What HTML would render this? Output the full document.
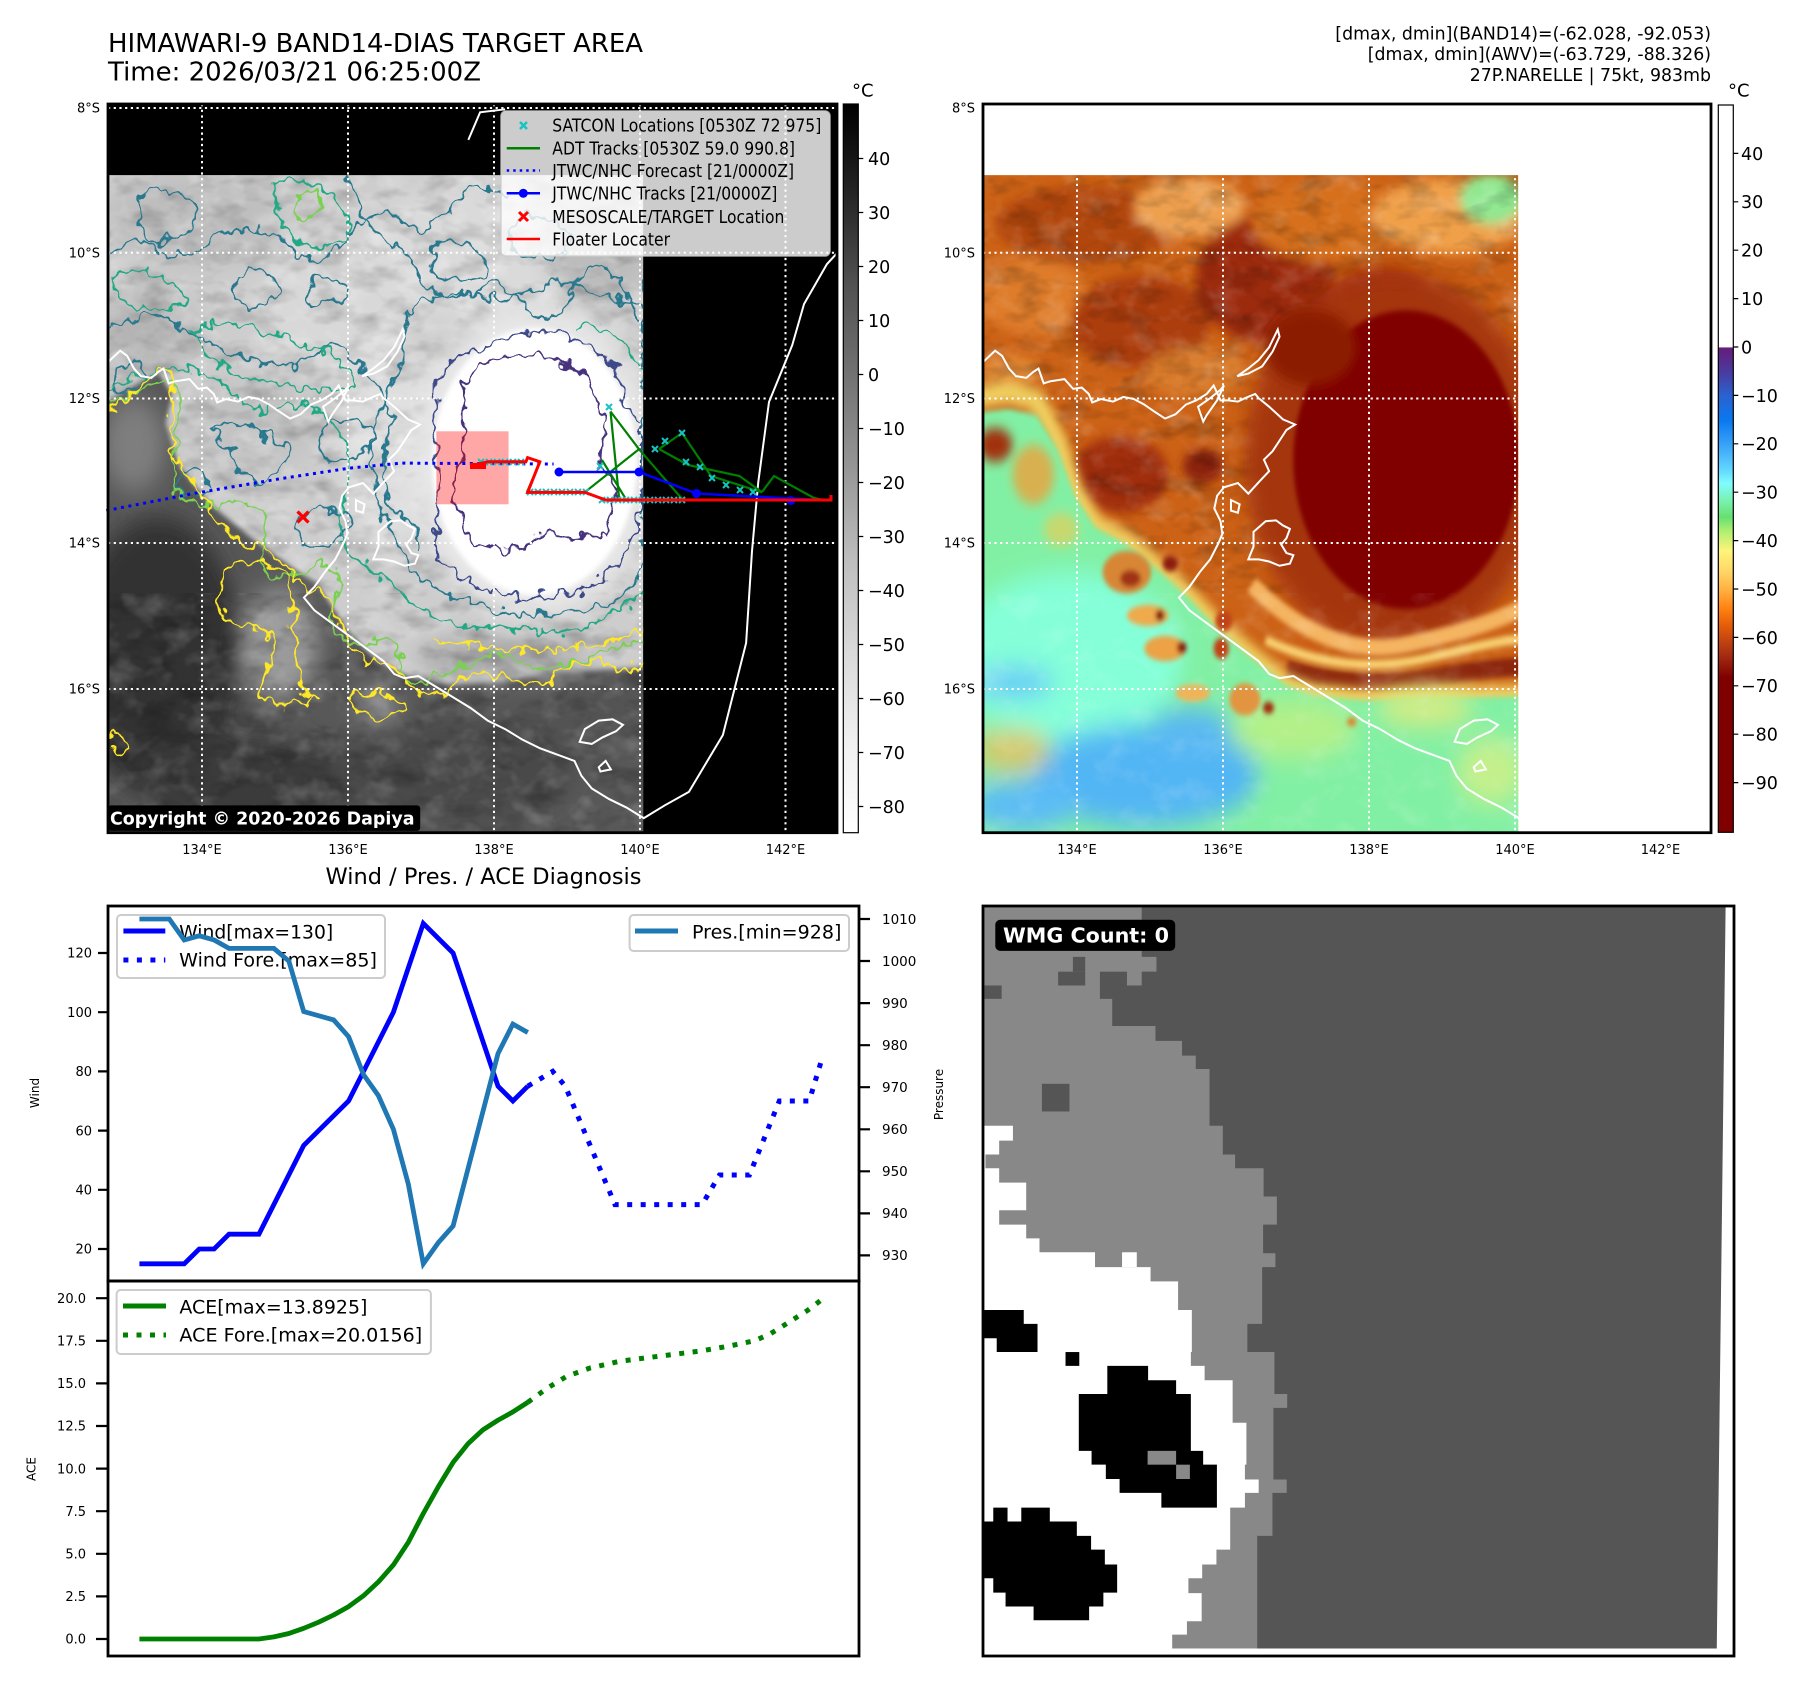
<!DOCTYPE html>
<html><head><meta charset="utf-8">
<style>
html,body{margin:0;padding:0;background:#fff;}
svg{display:block;}
text{font-family:"DejaVu Sans","Liberation Sans",sans-serif;fill:#000;}
.ns{vector-effect:non-scaling-stroke;}
</style></head><body>
<svg width="1801" height="1693" viewBox="0 0 1801 1693" xmlns="http://www.w3.org/2000/svg">
<defs>
<filter id="f6" x="-50%" y="-50%" width="200%" height="200%"><feGaussianBlur stdDeviation="6"/></filter>
<filter id="f14" x="-50%" y="-50%" width="200%" height="200%"><feGaussianBlur stdDeviation="14"/></filter>
<filter id="f30" x="-50%" y="-50%" width="200%" height="200%"><feGaussianBlur stdDeviation="30"/></filter>
<filter id="texD" x="0" y="0" width="100%" height="100%">
<feTurbulence type="fractalNoise" baseFrequency="0.010 0.022" numOctaves="3" seed="7" result="n"/>
<feColorMatrix in="n" type="matrix" values="0 0 0 0 0  0 0 0 0 0  0 0 0 0 0  -2.2 0 0 0 1.2"/>
</filter>
<filter id="texL" x="0" y="0" width="100%" height="100%">
<feTurbulence type="fractalNoise" baseFrequency="0.012 0.018" numOctaves="3" seed="21" result="n"/>
<feColorMatrix in="n" type="matrix" values="0 0 0 0 1  0 0 0 0 1  0 0 0 0 1  2.2 0 0 0 -1.05"/>
</filter>
<filter id="wig" x="-5%" y="-5%" width="110%" height="110%">
<feTurbulence type="fractalNoise" baseFrequency="0.03" numOctaves="2" seed="2" result="t"/>
<feDisplacementMap in="SourceGraphic" in2="t" scale="50" xChannelSelector="R" yChannelSelector="G"/>
</filter>
<clipPath id="cdata"><rect x="5" y="14" width="1543" height="1550"/></clipPath>
<clipPath id="cax"><rect x="5" y="-154" width="2102" height="1718"/></clipPath>
<linearGradient id="gL" x1="0" y1="0" x2="0" y2="1">
<stop offset="0" stop-color="#000"/><stop offset="0.125" stop-color="#252525"/><stop offset="0.25" stop-color="#525252"/>
<stop offset="0.375" stop-color="#737373"/><stop offset="0.5" stop-color="#969696"/><stop offset="0.625" stop-color="#bdbdbd"/>
<stop offset="0.75" stop-color="#d9d9d9"/><stop offset="0.875" stop-color="#f0f0f0"/><stop offset="1" stop-color="#fff"/>
</linearGradient>
<linearGradient id="gR" x1="0" y1="0" x2="0" y2="1">
<stop offset="0" stop-color="#fff"/><stop offset="0.3330" stop-color="#fff"/><stop offset="0.3336" stop-color="#661c7a"/>
<stop offset="0.3667" stop-color="#4a3a9e"/><stop offset="0.4" stop-color="#2a62d0"/><stop offset="0.4333" stop-color="#0a78f0"/>
<stop offset="0.4667" stop-color="#38a2f8"/><stop offset="0.5" stop-color="#60d4ff"/><stop offset="0.52" stop-color="#80fcff"/>
<stop offset="0.5467" stop-color="#78f0a8"/><stop offset="0.5667" stop-color="#66e070"/><stop offset="0.5867" stop-color="#b0f070"/>
<stop offset="0.6133" stop-color="#fff47a"/><stop offset="0.64" stop-color="#ffd868"/><stop offset="0.6667" stop-color="#ffb040"/>
<stop offset="0.6933" stop-color="#ff8010"/><stop offset="0.7133" stop-color="#e86008"/><stop offset="0.7333" stop-color="#c84810"/>
<stop offset="0.76" stop-color="#a02810"/><stop offset="0.7867" stop-color="#800000"/><stop offset="1" stop-color="#800000"/>
</linearGradient>
<g id="coast" fill="none" stroke="#fff" stroke-width="2">
<path class="ns" d="M5,455 L40,428 60,440 80,470 100,488 130,492 150,478 165,470 180,505 200,500 240,495 265,518 290,515 310,530 320,550 345,542 380,548 410,537 440,542 470,555 500,572 530,588 560,578 590,555 620,545 650,530 670,510 690,545 710,545 740,548 760,540 790,530 800,540 830,560 850,575 870,590 905,602 880,615 860,640 840,665 815,685 830,712 800,738 770,765 740,740 700,750 680,770 672,800 690,830 695,860 685,880 660,920 630,950 600,985 570,1010 600,1040 650,1070 700,1100 750,1130 800,1160 830,1190 860,1200 900,1195 950,1220 1000,1245 1050,1270 1100,1300 1150,1320 1200,1345 1250,1365 1300,1380 1350,1395 1370,1430 1400,1460 1450,1485 1500,1505 1550,1530 1610,1500 1680,1468 1778,1334 1845,1117 1862,900 1880,738 1911,549 1978,415 2012,318 2078,224 2116,190"/>
<path class="ns" d="M785,855 L820,830 850,828 870,840 890,848 880,870 865,885 880,905 900,910 890,930 860,935 830,925 800,920 770,920 785,890 Z"/>
<path class="ns" d="M738,488 L770,470 800,450 830,420 855,378 860,395 840,430 810,465 770,482 Z"/>
<path class="ns" d="M625,560 L660,540 690,520 700,510 680,545 650,580 640,595 Z"/>
<path class="ns" d="M1365,1350 L1380,1320 1420,1300 1460,1297 1490,1310 1470,1325 1430,1340 1400,1355 Z"/>
<path class="ns" d="M1420,1410 L1440,1395 1455,1415 1425,1420 Z"/>
<path class="ns" d="M1044,-69 L1078,-134 1150,-141"/>
<path class="ns" d="M720,780 L745,790 740,810 720,805 Z"/>
</g>
</defs>

<text x="108" y="52" font-size="25.7" textLength="535" lengthAdjust="spacingAndGlyphs">HIMAWARI-9 BAND14-DIAS TARGET AREA</text>
<text x="108" y="80.5" font-size="25.7" textLength="373" lengthAdjust="spacingAndGlyphs">Time: 2026/03/21 06:25:00Z</text>
<text x="1711" y="39.3" font-size="18" text-anchor="end" textLength="375.7" lengthAdjust="spacingAndGlyphs">[dmax, dmin](BAND14)=(-62.028, -92.053)</text>
<text x="1711" y="60" font-size="18" text-anchor="end" textLength="343.3" lengthAdjust="spacingAndGlyphs">[dmax, dmin](AWV)=(-63.729, -88.326)</text>
<text x="1711" y="81" font-size="18" text-anchor="end" textLength="241.3" lengthAdjust="spacingAndGlyphs">27P.NARELLE | 75kt, 983mb</text>

<!-- ============ LEFT MAP ============ -->
<rect x="108" y="104" width="729" height="728.7" fill="#000"/>
<g transform="translate(106.27,169.13) scale(0.3468,0.4242)">
<g clip-path="url(#cdata)">
<rect x="0" y="0" width="1560" height="1580" fill="#cdcdcd"/>
<g filter="url(#f30)">
<ellipse cx="250" cy="120" rx="260" ry="110" fill="#bebebe"/>
<ellipse cx="650" cy="330" rx="220" ry="140" fill="#d8d8d8"/>
<ellipse cx="1050" cy="200" rx="330" ry="160" fill="#dadada"/>
<ellipse cx="120" cy="380" rx="140" ry="90" fill="#b4b4b4"/>
<ellipse cx="1420" cy="180" rx="160" ry="140" fill="#bcbcbc"/>
<ellipse cx="420" cy="600" rx="200" ry="110" fill="#c2c2c2"/>
<ellipse cx="820" cy="650" rx="150" ry="250" fill="#dedede"/>
</g>
<rect x="0" y="0" width="1560" height="1000" filter="url(#texD)" opacity="0.22"/>
<rect x="0" y="0" width="1560" height="1000" filter="url(#texL)" opacity="0.35"/>
<path filter="url(#f6)" d="M-20,560 L60,520 150,480 190,530 170,600 210,700 300,790 420,870 520,930 610,980 690,1080 780,1160 880,1200 1000,1215 1150,1205 1300,1185 1570,1175 L1570,1590 -20,1590 Z" fill="#585858"/>
<g filter="url(#f30)">
<ellipse cx="80" cy="650" rx="90" ry="110" fill="#7e7e7e"/>
<ellipse cx="150" cy="1150" rx="240" ry="330" fill="#303030"/>
<ellipse cx="400" cy="1450" rx="300" ry="120" fill="#3a3a3a"/>
<ellipse cx="1000" cy="1420" rx="350" ry="120" fill="#484848"/>
<ellipse cx="1400" cy="1300" rx="200" ry="80" fill="#525252"/>
<ellipse cx="500" cy="1120" rx="110" ry="130" fill="#9a9a9a"/>
<ellipse cx="780" cy="1265" rx="60" ry="35" fill="#9a9a9a"/>
<ellipse cx="1150" cy="1150" rx="260" ry="40" fill="#a0a0a0"/>
</g>
<rect x="0" y="1000" width="1560" height="580" filter="url(#texD)" opacity="0.25"/>
<rect x="0" y="1000" width="1560" height="580" filter="url(#texL)" opacity="0.2"/>
<ellipse filter="url(#f30)" cx="1235" cy="690" rx="350" ry="370" fill="#e8e8e8"/>
<ellipse filter="url(#f6)" cx="1235" cy="690" rx="295" ry="315" fill="#fff"/>
<g fill="none" stroke-width="2.2" filter="url(#wig)">
<path class="ns" stroke="#2a788e" d="M5,200 Q80,150 150,190 T280,180 T420,140 T560,200 T700,160 T850,120 T1000,90 T1150,60"/>
<path class="ns" stroke="#2a788e" d="M5,380 Q100,330 180,360 T320,420 T480,460 T620,430 T750,480 T820,600 T800,720 T850,820 T900,900"/>
<path class="ns" stroke="#2a788e" d="M700,20 Q720,120 800,160 T900,250 T1000,300 T1100,270 T1200,320 T1350,280 T1500,300 T1550,250"/>
<path class="ns" stroke="#2a788e" d="M300,620 Q350,580 420,610 T520,660 T480,720 T380,700 T300,620 Z"/>
<path class="ns" stroke="#2a788e" d="M870,330 L1000,290 1150,310 1300,260 1450,300 1550,320 L1550,950 1450,1030 1300,1050 1150,1045 1000,1010 900,960 850,900 800,820 760,700 780,600 840,480 860,400 Z"/>
<path class="ns" stroke="#2a788e" d="M100,60 Q180,30 240,80 T200,160 T100,140 Z"/>
<path class="ns" stroke="#2a788e" d="M950,180 Q1020,150 1080,200 T1020,260 T950,180 Z"/>
<path class="ns" stroke="#2a788e" d="M560,820 Q620,780 680,810 T640,880 T560,820 Z"/>
<path class="ns" stroke="#2a788e" d="M380,250 Q430,220 480,260 T440,320 T380,250 Z"/>
<path class="ns" stroke="#2a788e" d="M1180,120 Q1250,90 1320,140 T1260,210 T1180,120 Z"/>
<path class="ns" stroke="#2a788e" d="M600,260 Q640,240 680,270 T640,320 T600,260 Z"/>
<path class="ns" stroke="#2a788e" d="M30,470 Q70,450 110,470 T70,520 T30,470 Z"/>
<path class="ns" stroke="#2a788e" d="M220,720 Q260,700 290,730 T250,770 T220,720 Z"/>
<path class="ns" stroke="#2a788e" d="M640,600 Q700,570 760,610 T700,680 T640,600 Z"/>
<path class="ns" stroke="#22a884" d="M5,520 Q100,480 200,470 T350,520 T500,560 T650,600 T700,700 T680,820 T720,920 T850,1000 T1000,1070 T1200,1090 T1400,1070 T1550,1000"/>
<path class="ns" stroke="#22a884" d="M250,380 Q350,350 450,380 T600,420 T700,480 T620,520 T450,500 T300,450 Z"/>
<path class="ns" stroke="#22a884" d="M480,30 Q560,10 640,60 T700,150 T600,180 T500,120 Z"/>
<path class="ns" stroke="#22a884" d="M20,250 Q120,230 200,280 T150,330 T20,250 Z"/>
<path class="ns" stroke="#22a884" d="M1350,380 Q1420,350 1480,400 T1550,480"/>
<path class="ns" stroke="#7ad151" d="M5,560 Q80,520 160,500 T200,650 T320,790 T450,880 T560,950 T660,1010 T740,1110 T850,1170 T1000,1180 T1200,1160 T1400,1150 T1550,1120"/>
<path class="ns" stroke="#7ad151" d="M560,60 Q590,40 620,70 T590,110 T560,60 Z"/>
<path class="ns" stroke="#fde725" d="M5,575 Q60,540 130,490 T190,560 T200,690 T300,800 T420,890 T520,940 T600,990 T680,1080 T760,1160 T860,1205 T1000,1220 T1150,1200 T1300,1190 T1450,1170 T1550,1160"/>
<path class="ns" stroke="#fde725" d="M350,940 Q400,910 460,930 T530,1000 T550,1150 T600,1250 T520,1260 T460,1180 T400,1080 T350,940 Z"/>
<path class="ns" stroke="#fde725" d="M700,1250 Q760,1220 830,1250 T840,1290 T760,1290 T700,1250 Z"/>
<path class="ns" stroke="#fde725" d="M950,1110 Q1100,1140 1300,1130 T1550,1080"/>
<path class="ns" stroke="#fde725" d="M5,1330 Q40,1320 60,1350 T5,1370"/>
<path class="ns" stroke="#3e4989" d="M950,500 L1000,450 1080,420 1200,385 1300,380 1400,420 1470,470 1500,560 1545,600 1545,800 1500,900 1450,960 1350,1000 1200,1010 1050,980 960,920 950,830 960,720 950,600 Z"/>
<path class="ns" stroke="#46337e" d="M1030,510 L1100,450 1250,440 1350,470 1400,510 1440,600 1420,700 1470,760 1440,860 1350,870 1250,860 1190,900 1050,880 1020,820 1000,760 1030,650 Z"/>
</g>
</g>
<g clip-path="url(#cax)"><use href="#coast"/></g>
</g>
<g stroke="#fff" stroke-width="2" stroke-dasharray="2.2 3.5" fill="none">
<path d="M202,104V832.7M348,104V832.7M494,104V832.7M640,104V832.7M785.5,104V832.7"/>
<path d="M108,108H837M108,252.7H837M108,398.5H837M108,543H837M108,689H837"/>
</g>
<rect x="436.4" y="431.3" width="72.2" height="73" fill="#ff0000" fill-opacity="0.35"/>
<polyline points="106.3,510.6 193,493.6 279.7,478.8 349,468.2 401,463.1 553.6,464" fill="none" stroke="#0000ff" stroke-width="3" stroke-dasharray="3 4.5"/>
<g stroke="#008000" stroke-width="2.2" fill="none">
<polyline points="610.5,411.5 639,449.2 682,498.8"/>
<polyline points="610.5,411.5 619,497"/>
<polyline points="584.7,492.3 639,449.2"/>
<polyline points="602,460 625,497.7"/>
<polyline points="659,449 682,433 711,476 762,492.3 739.5,476 688,465 659,449"/>
<polyline points="762,492 774,476 814,498 825.7,500.6"/>
<polyline points="527,492 540,462"/>
</g>
<polyline points="559,472 639,472 696.5,493.5 762,497 831,500.5" fill="none" stroke="#0000ff" stroke-width="2.5"/>
<g fill="#0000ff"><circle cx="559" cy="472" r="4.5"/><circle cx="639" cy="472" r="4.5"/><circle cx="696.5" cy="493.5" r="4.5"/><circle cx="791" cy="500.5" r="4.5"/></g>
<g stroke="#17c3c3" stroke-width="2" fill="none">
<path d="M478,459l6,6m0,-6l-6,6M486,459l6,6m0,-6l-6,6M494,459l6,6m0,-6l-6,6M502,459l6,6m0,-6l-6,6M510,459l6,6m0,-6l-6,6M518,459l6,6m0,-6l-6,6"/>
<path d="M527,489l6,6m0,-6l-6,6M535,489l6,6m0,-6l-6,6M543,489l6,6m0,-6l-6,6M551,489l6,6m0,-6l-6,6M559,489l6,6m0,-6l-6,6M567,489l6,6m0,-6l-6,6M575,489l6,6m0,-6l-6,6M583,489l6,6m0,-6l-6,6M599,497l6,6m0,-6l-6,6M607,497l6,6m0,-6l-6,6M615,497l6,6m0,-6l-6,6M623,497l6,6m0,-6l-6,6M631,497l6,6m0,-6l-6,6M639,497l6,6m0,-6l-6,6M647,497l6,6m0,-6l-6,6M655,497l6,6m0,-6l-6,6M663,497l6,6m0,-6l-6,6M671,497l6,6m0,-6l-6,6M679,497l6,6m0,-6l-6,6"/>
<path d="M606,404l6,6m0,-6l-6,6M597,463l6,6m0,-6l-6,6M652,446l6,6m0,-6l-6,6M662,438l6,6m0,-6l-6,6M679,430l6,6m0,-6l-6,6M683,459l6,6m0,-6l-6,6M697,464l6,6m0,-6l-6,6M709,475l6,6m0,-6l-6,6M723,482l6,6m0,-6l-6,6M737,487l6,6m0,-6l-6,6M750,489l6,6m0,-6l-6,6"/>
</g>
<polyline points="470.4,466 487.7,461.8 525.9,461.8 527.6,457.6 539.8,461.8 527.6,492.4 584.9,492.4 605.7,500 831,500 831,495" fill="none" stroke="#ff0000" stroke-width="3"/>
<path d="M470,463h16v6h-16z" fill="#ff0000"/>
<path d="M297.5,511.5l11,11m0,-11l-11,11" stroke="#ff0000" stroke-width="3.2"/>
<rect x="108" y="805.4" width="312.2" height="25.5" rx="3" fill="#000"/>
<text x="110" y="824.5" font-size="17.5" font-weight="bold" style="fill:#fff" textLength="304.5" lengthAdjust="spacingAndGlyphs">Copyright © 2020-2026 Dapiya</text>
<rect x="501" y="111" width="329" height="145" rx="5" fill="#fff" fill-opacity="0.8" stroke="#ccc" stroke-opacity="0.8" stroke-width="1.5"/>
<path d="M520,122l7,7m0,-7l-7,7" stroke="#17c3c3" stroke-width="2.5"/>
<line x1="506.7" y1="148.3" x2="540" y2="148.3" stroke="#008000" stroke-width="2.5"/>
<line x1="506.7" y1="170.5" x2="540" y2="170.5" stroke="#0000ff" stroke-width="2.5" stroke-dasharray="2.5 4"/>
<line x1="506.7" y1="193.3" x2="540" y2="193.3" stroke="#0000ff" stroke-width="2.5"/><circle cx="523.3" cy="193.3" r="4.5" fill="#0000ff"/>
<path d="M519,212l9,9m0,-9l-9,9" stroke="#ff0000" stroke-width="3"/>
<line x1="506.7" y1="239" x2="540" y2="239" stroke="#ff0000" stroke-width="2.5"/>
<g font-size="17.5">
<text x="552.3" y="131.3" textLength="269" lengthAdjust="spacingAndGlyphs">SATCON Locations [0530Z 72 975]</text>
<text x="552.3" y="154.6" textLength="242.7" lengthAdjust="spacingAndGlyphs">ADT Tracks [0530Z 59.0 990.8]</text>
<text x="552.3" y="176.8" textLength="241.7" lengthAdjust="spacingAndGlyphs">JTWC/NHC Forecast [21/0000Z]</text>
<text x="552.3" y="199.6" textLength="225" lengthAdjust="spacingAndGlyphs">JTWC/NHC Tracks [21/0000Z]</text>
<text x="552.3" y="223" textLength="232" lengthAdjust="spacingAndGlyphs">MESOSCALE/TARGET Location</text>
<text x="552.3" y="245.3" textLength="117.7" lengthAdjust="spacingAndGlyphs">Floater Locater</text>
</g>
<rect x="108" y="104" width="729" height="728.7" fill="none" stroke="#000" stroke-width="2.8"/>
<g font-size="13" text-anchor="end">
<text x="100" y="112.7">8°S</text><text x="100" y="257.4">10°S</text><text x="100" y="403.2">12°S</text><text x="100" y="547.7">14°S</text><text x="100" y="693.7">16°S</text>
</g>
<g font-size="13" text-anchor="middle">
<text x="202" y="854">134°E</text><text x="348" y="854">136°E</text><text x="494" y="854">138°E</text><text x="640" y="854">140°E</text><text x="785.5" y="854">142°E</text>
</g>
<rect x="843.3" y="104" width="15" height="728.7" fill="url(#gL)" stroke="#000" stroke-width="1.2"/>
<text x="852" y="96.7" font-size="18">°C</text>
<g font-size="17.5">
<text x="868" y="164.9">40</text><text x="868" y="218.9">30</text><text x="868" y="272.9">20</text><text x="868" y="326.9">10</text><text x="868" y="380.9">0</text>
<text x="868" y="434.9">−10</text><text x="868" y="488.9">−20</text><text x="868" y="542.9">−30</text><text x="868" y="596.9">−40</text><text x="868" y="650.9">−50</text>
<text x="868" y="704.9">−60</text><text x="868" y="758.9">−70</text><text x="868" y="812.9">−80</text>
</g>
<path d="M858.3,158.5h5M858.3,212.5h5M858.3,266.5h5M858.3,320.5h5M858.3,374.5h5M858.3,428.5h5M858.3,482.5h5M858.3,536.5h5M858.3,590.5h5M858.3,644.5h5M858.3,698.5h5M858.3,752.5h5M858.3,806.5h5" stroke="#000" stroke-width="1.2"/>

<!-- ============ RIGHT MAP ============ -->
<rect x="983" y="104" width="728" height="728.7" fill="#fff"/>
<g transform="translate(981.27,169.13) scale(0.3468,0.4242)">
<g clip-path="url(#cdata)">
<rect x="0" y="0" width="1560" height="1580" fill="#cc6216"/>
<g filter="url(#f14)">
<ellipse cx="300" cy="130" rx="260" ry="90" fill="#b24610"/>
<ellipse cx="600" cy="90" rx="160" ry="70" fill="#eea050"/>
<ellipse cx="150" cy="300" rx="160" ry="90" fill="#de7c2c"/>
<ellipse cx="460" cy="360" rx="200" ry="110" fill="#ac3e0e"/>
<ellipse cx="820" cy="260" rx="200" ry="150" fill="#9c2a08"/>
<ellipse cx="1000" cy="120" rx="220" ry="100" fill="#d6701e"/>
<ellipse cx="1350" cy="110" rx="220" ry="90" fill="#f0a048"/>
<ellipse cx="1470" cy="70" rx="90" ry="60" fill="#90e890"/>
<ellipse cx="1150" cy="330" rx="160" ry="100" fill="#a83208"/>
<ellipse cx="620" cy="480" rx="150" ry="60" fill="#d87a2a"/>
<ellipse cx="400" cy="720" rx="140" ry="90" fill="#a02e0c"/>
<ellipse cx="640" cy="700" rx="60" ry="40" fill="#8a2008"/>
<ellipse cx="80" cy="480" rx="90" ry="40" fill="#e48a34"/>
</g>
<rect x="0" y="0" width="1560" height="1000" filter="url(#texD)" opacity="0.25"/>
<rect x="0" y="0" width="1560" height="1000" filter="url(#texL)" opacity="0.2"/>
<ellipse filter="url(#f30)" cx="1190" cy="690" rx="430" ry="450" fill="#a4340c"/>
<g filter="url(#f6)" fill="none">
<path d="M780,980 Q1000,1160 1230,1120 T1570,1030" stroke="#f4b460" stroke-width="40"/>
<path d="M880,1180 Q1100,1230 1300,1200 T1570,1175" stroke="#8c2808" stroke-width="45"/>
<path d="M820,1110 Q1050,1200 1300,1150 T1570,1110" stroke="#f8d070" stroke-width="22"/>
</g>
<ellipse filter="url(#f6)" cx="1225" cy="685" rx="325" ry="352" fill="#800000"/>
<ellipse filter="url(#f14)" cx="950" cy="420" rx="130" ry="90" fill="#8c1c04"/>
<path filter="url(#f14)" d="M-20,540 L80,525 160,545 220,640 270,760 330,840 420,880 520,950 600,1010 680,1080 780,1150 880,1215 960,1240 1100,1250 1300,1245 1570,1240" fill="none" stroke="#f0d060" stroke-width="50"/>
<path filter="url(#f6)" d="M-20,575 L80,565 160,580 220,660 270,770 330,845 420,885 520,952 600,1012 680,1082 780,1152 880,1217 960,1242 1100,1252 1300,1247 1570,1242 L1570,1590 -20,1590 Z" fill="#82f0a4"/>
<g filter="url(#f14)">
<ellipse cx="40" cy="650" rx="50" ry="40" fill="#a03010"/>
<ellipse cx="150" cy="720" rx="60" ry="70" fill="#d8b050"/>
<ellipse cx="230" cy="850" rx="50" ry="40" fill="#c8d870"/>
</g>
<g filter="url(#f30)">
<ellipse cx="250" cy="1150" rx="330" ry="200" fill="#84ffd8"/>
<ellipse cx="470" cy="1430" rx="330" ry="120" fill="#52b6f4"/>
<ellipse cx="120" cy="1500" rx="160" ry="60" fill="#5cbcf6"/>
<ellipse cx="90" cy="1210" rx="120" ry="35" fill="#66c8f8"/>
<ellipse cx="600" cy="1320" rx="120" ry="50" fill="#5ab8f2"/>
<ellipse cx="900" cy="1320" rx="180" ry="70" fill="#b4f088"/>
<ellipse cx="1280" cy="1270" rx="140" ry="45" fill="#d4ec84"/>
<ellipse cx="1470" cy="1420" rx="100" ry="80" fill="#c4f08c"/>
<ellipse cx="90" cy="1370" rx="110" ry="50" fill="#d8c868"/>
</g>
<rect x="0" y="1000" width="1560" height="580" filter="url(#texL)" opacity="0.15"/>
<g filter="url(#f6)">
<ellipse cx="420" cy="950" rx="70" ry="50" fill="#d88634"/>
<ellipse cx="430" cy="965" rx="30" ry="20" fill="#a03212"/>
<ellipse cx="545" cy="930" rx="22" ry="18" fill="#8c1c08"/>
<ellipse cx="480" cy="1052" rx="60" ry="25" fill="#eeaa4c"/>
<ellipse cx="515" cy="1052" rx="13" ry="13" fill="#800000"/>
<ellipse cx="530" cy="1130" rx="60" ry="30" fill="#eca244"/>
<ellipse cx="578" cy="1128" rx="14" ry="14" fill="#8c1808"/>
<ellipse cx="692" cy="1130" rx="22" ry="25" fill="#c04212"/>
<ellipse cx="700" cy="1065" rx="25" ry="25" fill="#c04212"/>
<ellipse cx="760" cy="1250" rx="45" ry="38" fill="#e29440"/>
<ellipse cx="828" cy="1270" rx="16" ry="14" fill="#a02e10"/>
<ellipse cx="610" cy="1235" rx="50" ry="20" fill="#f0b458"/>
<ellipse cx="1068" cy="1303" rx="14" ry="10" fill="#e0802c"/>
</g>
</g>
<g clip-path="url(#cax)"><use href="#coast"/></g>
</g>
<g stroke="#fff" stroke-width="2" stroke-dasharray="2.2 3.5" fill="none">
<path d="M1077,104V832.7M1223,104V832.7M1369,104V832.7M1515,104V832.7M1660.5,104V832.7"/>
<path d="M983,108H1711M983,252.7H1711M983,398.5H1711M983,543H1711M983,689H1711"/>
</g>
<rect x="983" y="104" width="728" height="728.7" fill="none" stroke="#000" stroke-width="2.8"/>
<g font-size="13" text-anchor="end">
<text x="975" y="112.7">8°S</text><text x="975" y="257.4">10°S</text><text x="975" y="403.2">12°S</text><text x="975" y="547.7">14°S</text><text x="975" y="693.7">16°S</text>
</g>
<g font-size="13" text-anchor="middle">
<text x="1077" y="854">134°E</text><text x="1223" y="854">136°E</text><text x="1369" y="854">138°E</text><text x="1515" y="854">140°E</text><text x="1660.5" y="854">142°E</text>
</g>
<rect x="1718.3" y="105" width="15" height="727.3" fill="url(#gR)" stroke="#000" stroke-width="1.2"/>
<text x="1728" y="96.7" font-size="18">°C</text>
<g font-size="17.5">
<text x="1741" y="159.8">40</text><text x="1741" y="208.2">30</text><text x="1741" y="256.6">20</text><text x="1741" y="305">10</text><text x="1741" y="353.4">0</text>
<text x="1741" y="401.8">−10</text><text x="1741" y="450.2">−20</text><text x="1741" y="498.6">−30</text><text x="1741" y="547">−40</text><text x="1741" y="595.4">−50</text>
<text x="1741" y="643.8">−60</text><text x="1741" y="692.2">−70</text><text x="1741" y="740.6">−80</text><text x="1741" y="789">−90</text>
</g>
<path d="M1733.3,153.4h5M1733.3,201.8h5M1733.3,250.2h5M1733.3,298.6h5M1733.3,347h5M1733.3,395.4h5M1733.3,443.8h5M1733.3,492.2h5M1733.3,540.6h5M1733.3,589h5M1733.3,637.4h5M1733.3,685.8h5M1733.3,734.2h5M1733.3,782.6h5" stroke="#000" stroke-width="1.2"/>

<!-- ============ BOTTOM LEFT PLOTS ============ -->
<text x="483.5" y="884" font-size="22" text-anchor="middle" textLength="316" lengthAdjust="spacingAndGlyphs">Wind / Pres. / ACE Diagnosis</text>
<polyline points="139.4,1263.8 184.2,1263.8 199.2,1249 214.1,1249 229,1234.2 258.9,1234.2 303.7,1145.4 348.6,1101 393.4,1012.2 423.3,923.4 453.1,953 498,1086.2 512.9,1101 527.8,1086.2" fill="none" stroke="#0000ff" stroke-width="4.8"/>
<polyline points="527.8,1086.2 552.7,1071.4 565.2,1086 615,1204.6 702.1,1204.6 719.5,1175 749.4,1175 779.3,1101 809.2,1101 822.6,1056.6" fill="none" stroke="#0000ff" stroke-width="5" stroke-dasharray="5 8.5"/>
<rect x="117" y="915" width="268" height="63" rx="4" fill="#fff" fill-opacity="0.8" stroke="#ccc" stroke-width="2"/>
<line x1="123.4" y1="931" x2="165.3" y2="931" stroke="#0000ff" stroke-width="5"/>
<line x1="123.4" y1="960" x2="165.3" y2="960" stroke="#0000ff" stroke-width="5" stroke-dasharray="5 8.5"/>
<text x="179.2" y="938.3" font-size="18.5" textLength="154" lengthAdjust="spacingAndGlyphs">Wind[max=130]</text>
<text x="179.2" y="966.7" font-size="18.5" textLength="197.7" lengthAdjust="spacingAndGlyphs">Wind Fore.[max=85]</text>
<polyline points="139.4,919 169.3,919 184.2,940 199.2,935.8 214.1,940 229,948.4 273.9,948.4 288.8,961 303.7,1011.5 333.6,1019.9 348.6,1036.7 363.5,1074.6 378.4,1095.6 393.4,1129.3 408.3,1184 423.3,1263.8 438.2,1242.8 453.1,1226 498,1053.6 512.9,1024.1 527.8,1032.5" fill="none" stroke="#1f77b4" stroke-width="4.8"/>
<rect x="629.6" y="915" width="219.4" height="36" rx="4" fill="#fff" fill-opacity="0.8" stroke="#ccc" stroke-width="2"/>
<line x1="635" y1="931" x2="678" y2="931" stroke="#1f77b4" stroke-width="5"/>
<text x="692" y="938.3" font-size="18.5" textLength="149.4" lengthAdjust="spacingAndGlyphs">Pres.[min=928]</text>
<rect x="108" y="906" width="751" height="375" fill="none" stroke="#000" stroke-width="2.8"/>
<path d="M98,1249H108M98,1189.8H108M98,1130.6H108M98,1071.4H108M98,1012.2H108M98,953H108" stroke="#000" stroke-width="2.2"/>
<g font-size="13" text-anchor="end">
<text x="92" y="1253.7">20</text><text x="92" y="1194.5">40</text><text x="92" y="1135.3">60</text><text x="92" y="1076.1">80</text><text x="92" y="1016.9">100</text><text x="92" y="957.7">120</text>
</g>
<path d="M859,919H870M859,961H870M859,1003.1H870M859,1045.2H870M859,1087.2H870M859,1129.3H870M859,1171.3H870M859,1213.4H870M859,1255.4H870" stroke="#000" stroke-width="2.2"/>
<g font-size="13.5">
<text x="882" y="924">1010</text><text x="882" y="966">1000</text><text x="882" y="1008">990</text><text x="882" y="1050">980</text><text x="882" y="1092">970</text>
<text x="882" y="1134">960</text><text x="882" y="1176">950</text><text x="882" y="1218">940</text><text x="882" y="1260">930</text>
</g>
<text transform="translate(39,1093) rotate(-90)" font-size="12" text-anchor="middle">Wind</text>
<text transform="translate(943,1094.5) rotate(-90)" font-size="12" text-anchor="middle">Pressure</text>
<polyline points="139.4,1639 258.9,1639 273.9,1636.9 288.8,1633.5 303.7,1628.3 318.6,1622.2 333.6,1615 348.6,1606.6 363.5,1595.7 378.4,1581.9 393.4,1564.9 408.3,1542.3 423.3,1513.5 438.2,1486.9 453.1,1462.4 468.1,1443.6 483,1429.8 498,1420.2 512.9,1411.9 527.8,1402.3" fill="none" stroke="#008000" stroke-width="4.8" stroke-linejoin="round"/>
<polyline points="527.8,1402.3 546,1389 566.1,1376.6 590,1368 620,1361.2 660,1356.1 700.5,1351 730,1345.9 754.3,1340.8 770,1334 791.9,1320.3 808,1310.1 824,1297.9" fill="none" stroke="#008000" stroke-width="5" stroke-dasharray="5 8.5"/>
<rect x="116.6" y="1290" width="314.3" height="64" rx="4" fill="#fff" fill-opacity="0.8" stroke="#ccc" stroke-width="2"/>
<line x1="123" y1="1306" x2="166" y2="1306" stroke="#008000" stroke-width="5"/>
<line x1="123" y1="1335" x2="166" y2="1335" stroke="#008000" stroke-width="5" stroke-dasharray="5 8.5"/>
<text x="179.4" y="1313.3" font-size="18.5" textLength="188" lengthAdjust="spacingAndGlyphs">ACE[max=13.8925]</text>
<text x="179.4" y="1341.7" font-size="18.5" textLength="242.8" lengthAdjust="spacingAndGlyphs">ACE Fore.[max=20.0156]</text>
<rect x="108" y="1281" width="751" height="375" fill="none" stroke="#000" stroke-width="2.8"/>
<path d="M96,1639H108M96,1596.4H108M96,1553.8H108M96,1511.2H108M96,1468.6H108M96,1426H108M96,1383.4H108M96,1340.8H108M96,1298.2H108" stroke="#000" stroke-width="2.2"/>
<g font-size="13" text-anchor="end">
<text x="86" y="1643.7">0.0</text><text x="86" y="1601.1">2.5</text><text x="86" y="1558.5">5.0</text><text x="86" y="1515.9">7.5</text><text x="86" y="1473.3">10.0</text>
<text x="86" y="1430.7">12.5</text><text x="86" y="1388.1">15.0</text><text x="86" y="1345.5">17.5</text><text x="86" y="1302.9">20.0</text>
</g>
<text transform="translate(35.5,1469) rotate(-90)" font-size="12" text-anchor="middle">ACE</text>

<!-- ============ BOTTOM RIGHT WMG ============ -->
<g transform="translate(974.6,895.1) scale(0.4915,0.494)">
<rect x="17" y="22" width="1528" height="1518" fill="#fff"/>
<path d="M17,22 L1528,22 1510,1525 17,1525 Z" fill="#555"/>
<path d="M17,22 H340 V125 H370 V155 H340 V183 H255 V210 H280 V265 H368 V295 H422 V325 H450 V352 H478 V467 H505 V525 H530 V553 H588 V610 H615 V667 H587 V725 H612 V753 H585 V868 H555 V925 H610 V1010 H636 V1038 H608 V1183 H635 V1210 H606 V1297 H575 V1525 H17 Z" fill="#888"/>
<g fill="#555">
<rect x="200" y="125" width="25" height="30"/><rect x="170" y="155" width="55" height="28"/><rect x="255" y="155" width="55" height="28"/>
<rect x="20" y="183" width="35" height="27"/><rect x="137" y="382" width="56" height="56"/>
</g>
<path d="M17,467 H78 V497 H50 V525 H22 V553 H50 V582 H105 V638 H50 V667 H105 V695 H132 V723 H245 V753 H358 V782 H414 V840 H442 V925 H440 V953 H468 V982 H525 V1068 H553 V1153 H550 V1183 H578 V1210 H550 V1240 H520 V1325 H492 V1355 H463 V1383 H435 V1413 H462 V1470 H432 V1497 H402 V1525 H17 Z" fill="#fff"/>
<rect x="300" y="723" width="30" height="30" fill="#fff"/>
<g fill="#000">
<path d="M17,840 H100 V868 H128 V925 H45 V897 H17 Z"/>
<rect x="185" y="925" width="28" height="28"/>
<path d="M270,953 H353 V982 H410 V1010 H440 V1125 H465 V1153 H493 V1240 H380 V1210 H295 V1182 H267 V1153 H238 V1125 H212 V1010 H270 Z"/>
<path d="M38,1240 H67 V1268 H95 V1240 H153 V1268 H208 V1297 H237 V1325 H265 V1355 H290 V1412 H262 V1440 H233 V1468 H120 V1440 H63 V1412 H38 V1383 H17 V1268 H38 Z"/>
</g>
<g fill="#888"><rect x="352" y="1125" width="58" height="28"/><rect x="410" y="1153" width="28" height="29"/></g>
</g>
<rect x="983" y="906" width="751" height="750" fill="none" stroke="#000" stroke-width="2.8"/>
<rect x="995.3" y="919.8" width="179.9" height="31.1" rx="5" fill="#000"/>
<text x="1003" y="942.5" font-size="20" font-weight="bold" style="fill:#fff" textLength="166" lengthAdjust="spacingAndGlyphs">WMG Count: 0</text>
</svg>
</body></html>
